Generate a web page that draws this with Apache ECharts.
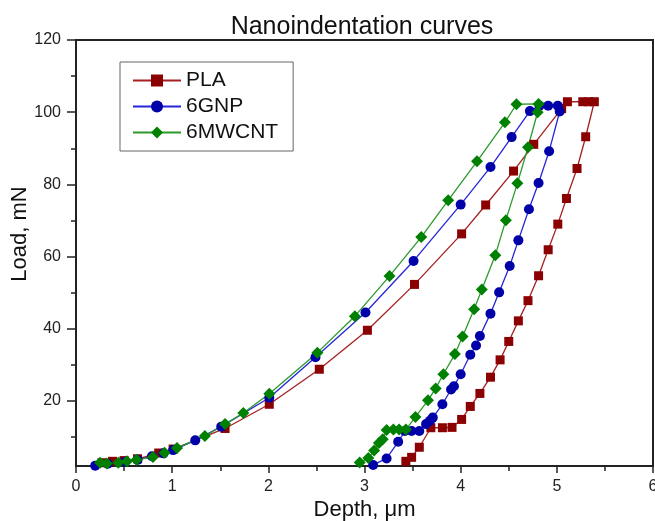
<!DOCTYPE html>
<html>
<head>
<meta charset="utf-8">
<script src="https://cdn.jsdelivr.net/npm/echarts@6/dist/echarts.min.js"></script>
<style>
  html, body { margin: 0; padding: 0; background: #fff; }
  #chart { width: 655px; height: 521px; }
</style>
</head>
<body>
<div id="chart"></div>
<script>
// Loading -> hold -> unloading
const plaDepth = [0.27, 0.38, 0.50, 0.64, 0.86, 1.01, 1.55, 2.01, 2.53, 3.03, 3.52, 4.01, 4.26, 4.55, 4.76, 5.05,
  5.11, 5.27, 5.33, 5.39,
  5.30, 5.21, 5.10, 5.01, 4.91, 4.81, 4.70, 4.60, 4.50, 4.41, 4.31, 4.20, 4.10, 4.01, 3.91, 3.81, 3.69, 3.57, 3.49, 3.43]
const plaLoad = [2.9, 3.3, 3.5, 4.0, 5.6, 6.7, 12.4, 19.1, 28.8, 39.6, 52.3, 66.3, 74.3, 83.7, 91.1, 101.0,
  102.9, 102.9, 102.9, 102.9,
  93.2, 84.4, 76.1, 69.0, 61.9, 54.7, 47.8, 42.2, 36.5, 31.4, 26.6, 22.1, 18.5, 14.9, 12.7, 12.6, 12.6, 7.2, 4.4, 3.3]

const gnpDepth = [0.20, 0.33, 0.51, 0.64, 0.79, 0.91, 1.01, 1.24, 1.51, 2.01, 2.49, 3.01, 3.51, 4.00, 4.31, 4.53, 4.72,
  4.82, 4.91, 5.01,
  5.03, 4.92, 4.81, 4.71, 4.60, 4.51, 4.40, 4.31, 4.20, 4.16, 4.10, 4.00, 3.93, 3.90, 3.81, 3.71, 3.68, 3.64,
  3.57, 3.49, 3.42, 3.35, 3.23, 3.09]
const gnpLoad = [2.1, 2.6, 3.2, 3.7, 4.7, 5.5, 6.4, 9.1, 12.9, 20.9, 32.1, 44.5, 58.8, 74.4, 84.8, 93.1, 100.3,
  101.8, 101.8, 101.8,
  100.2, 89.2, 80.4, 73.1, 64.5, 57.4, 50.1, 44.2, 38.0, 35.4, 32.8, 27.4, 24.1, 23.2, 19.1, 15.4, 14.5, 13.6,
  11.7, 11.7, 11.7, 8.7, 4.1, 2.3]

const cntDepth = [0.25, 0.32, 0.44, 0.53, 0.63, 0.80, 0.92, 1.05, 1.34, 1.55, 1.74, 2.01, 2.51, 2.90, 3.26, 3.59, 3.87,
  4.17, 4.46, 4.58, 4.81,
  4.80, 4.70, 4.59, 4.47, 4.36, 4.22, 4.14, 4.02, 3.94, 3.82, 3.74, 3.66, 3.53, 3.43, 3.36, 3.30, 3.23,
  3.19, 3.15, 3.10, 3.04, 2.95]
const cntLoad = [2.9, 2.7, 2.9, 3.3, 3.7, 4.5, 5.7, 7.0, 10.3, 13.6, 16.7, 22.0, 33.4, 43.5, 54.6, 65.4, 75.6,
  86.4, 97.2, 102.2, 102.3,
  100.0, 90.3, 80.3, 70.1, 60.4, 50.9, 45.4, 37.9, 33.0, 27.4, 23.5, 20.2, 15.6, 12.1, 12.1, 12.1, 12.0,
  9.4, 8.4, 6.3, 4.2, 3.0]

const yMajor = [20, 40, 60, 80, 100, 120]
const yMinor = [10, 30, 50, 70, 90, 110]

const FONT = '"Liberation Sans", Arial, sans-serif'
const AXIS = '#222'

const pairs = (xs, ys) => xs.map((x, i) => [x, ys[i]])

const chart = echarts.init(document.getElementById('chart'))

function lineSeries(name, data, symbol, size, mark, line) {
  return {
    name,
    type: 'line',
    data,
    symbol,
    symbolSize: size,
    showAllSymbol: true,
    clip: false,
    itemStyle: { color: mark },
    lineStyle: { color: line, width: 1.3 },
    z: 3,
  }
}

chart.setOption({
  animation: false,
  backgroundColor: '#fff',
  textStyle: { fontFamily: FONT },
  title: {
    text: 'Nanoindentation curves',
    left: 357,
    textAlign: 'center',
    top: 10,
    textStyle: { fontFamily: FONT, fontSize: 25, fontWeight: 'normal', color: '#111' },
  },
  legend: {
    orient: 'vertical',
    left: 120,
    top: 62,
    padding: [8, 15, 8, 12],
    itemGap: 5,
    itemWidth: 48,
    itemHeight: 15,
    borderColor: '#666',
    borderWidth: 1,
    textStyle: { fontFamily: FONT, fontSize: 21, color: '#111', lineHeight: 20 },
    data: ['PLA', '6GNP', '6MWCNT'],
  },
  grid: {
    left: 76, right: 2, top: 40, bottom: 55,
    outerBoundsMode: 'none',
    show: true, borderColor: AXIS, borderWidth: 2,
  },
  xAxis: {
    type: 'value',
    min: 0,
    max: 6,
    interval: 1,
    name: 'Depth, \u03bcm',
    nameLocation: 'middle',
    nameGap: 33,
    nameMoveOverlap: false,
    nameTextStyle: { fontFamily: FONT, fontSize: 22, color: '#111' },
    axisLine: { lineStyle: { color: AXIS, width: 2 } },
    axisTick: { show: true, length: 7, lineStyle: { color: AXIS, width: 1.5 } },
    minorTick: { show: true, splitNumber: 2, length: 5, lineStyle: { color: AXIS, width: 1.5 } },
    axisLabel: { fontFamily: FONT, fontSize: 16, color: '#222', margin: 13 },
    splitLine: { show: false },
  },
  yAxis: [
    {
      type: 'value',
      min: 2,
      max: 120,
      name: 'Load, mN',
      nameLocation: 'middle',
      nameGap: 45,
      nameMoveOverlap: false,
      nameTextStyle: { fontFamily: FONT, fontSize: 22, color: '#111', padding: [0, 0, 0, 38] },
      axisLine: { lineStyle: { color: AXIS, width: 2 } },
      axisTick: { show: true, length: 9, customValues: yMajor, lineStyle: { color: AXIS, width: 1.5 } },
      axisLabel: { fontFamily: FONT, fontSize: 16, color: '#222', margin: 15, customValues: yMajor },
      splitLine: { show: false },
    },
    {
      type: 'value',
      min: 2,
      max: 120,
      position: 'left',
      axisLine: { show: false },
      axisTick: { show: true, length: 5, customValues: yMinor, lineStyle: { color: AXIS, width: 1.5 } },
      axisLabel: { show: false },
      splitLine: { show: false },
    },
  ],
  series: [
    lineSeries('PLA', pairs(plaDepth, plaLoad), 'rect', 9, '#8b0000', '#a52020'),
    lineSeries('6GNP', pairs(gnpDepth, gnpLoad), 'circle', 10, '#0000a8', '#2626d9'),
    lineSeries('6MWCNT', pairs(cntDepth, cntLoad), 'diamond', 12, '#008000', '#2b9a2b'),
  ],
})
</script>
</body>
</html>
